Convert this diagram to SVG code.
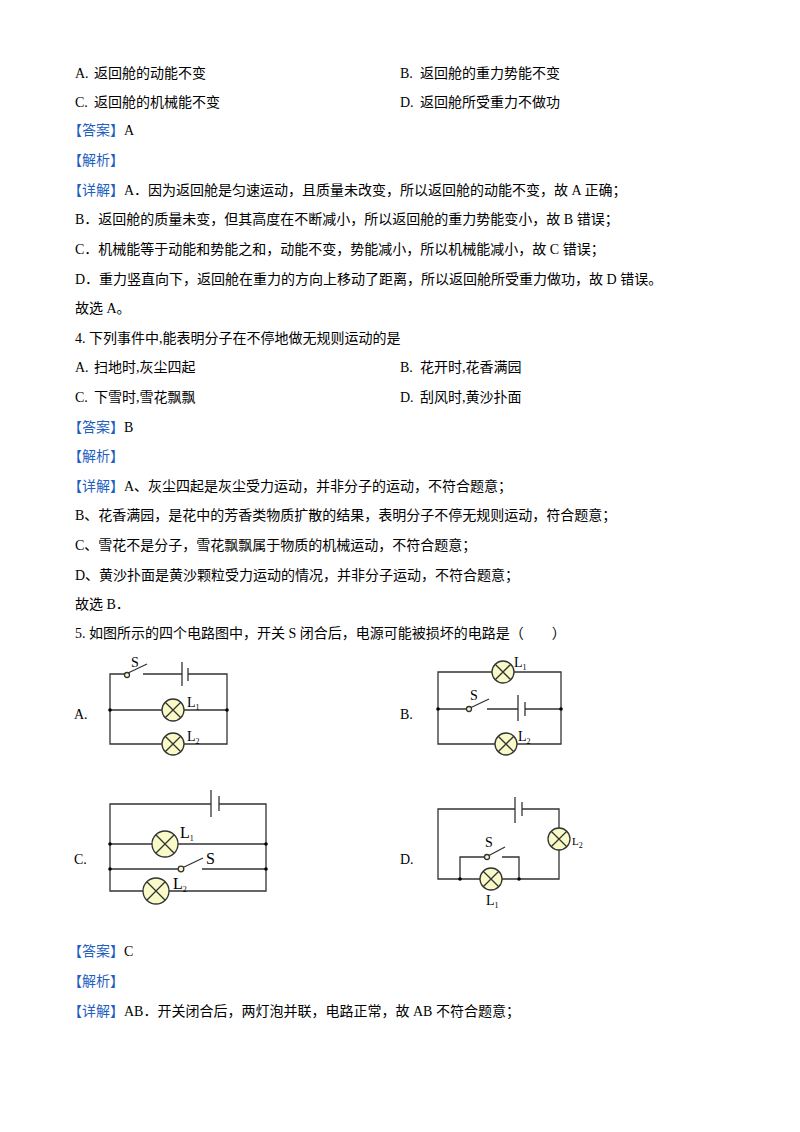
<svg xmlns="http://www.w3.org/2000/svg" width="800" height="1132" viewBox="0 0 800 1132">
<style>
text{font-family:"Liberation Serif","Noto Sans CJK SC",serif;font-size:14px;fill:#000}
.b{fill:#1f5fbf}
.w{stroke:#333;stroke-width:1.3;fill:none}
.lamp{fill:#fafac8;stroke:#333;stroke-width:1.3}
.lab{font-family:"Liberation Serif",serif;font-size:14px}
.sub{font-size:8px}
</style>
<rect width="800" height="1132" fill="#fff"/>
<g id="text">
<text x="75" y="78">A.</text><text x="94" y="78">返回舱的动能不变</text>
<text x="400" y="78">B.</text><text x="420" y="78">返回舱的重力势能不变</text>
<text x="75" y="107">C.</text><text x="94" y="107">返回舱的机械能不变</text>
<text x="400" y="107">D.</text><text x="420" y="107">返回舱所受重力不做功</text>
<text x="68" y="135"><tspan class="b">【答案】</tspan>A</text>
<text x="68" y="165" class="b">【解析】</text>
<text x="68" y="195"><tspan class="b">【详解】</tspan>A．因为返回舱是匀速运动，且质量未改变，所以返回舱的动能不变，故 A 正确；</text>
<text x="75" y="224">B．返回舱的质量未变，但其高度在不断减小，所以返回舱的重力势能变小，故 B 错误；</text>
<text x="75" y="254">C．机械能等于动能和势能之和，动能不变，势能减小，所以机械能减小，故 C 错误；</text>
<text x="75" y="284">D．重力竖直向下，返回舱在重力的方向上移动了距离，所以返回舱所受重力做功，故 D 错误。</text>
<text x="75" y="313">故选 A。</text>
<text x="75" y="343">4. 下列事件中,能表明分子在不停地做无规则运动的是</text>
<text x="75" y="372">A.</text><text x="94" y="372">扫地时,灰尘四起</text>
<text x="400" y="372">B.</text><text x="420" y="372">花开时,花香满园</text>
<text x="75" y="402">C.</text><text x="94" y="402">下雪时,雪花飘飘</text>
<text x="400" y="402">D.</text><text x="420" y="402">刮风时,黄沙扑面</text>
<text x="68" y="432"><tspan class="b">【答案】</tspan>B</text>
<text x="68" y="461" class="b">【解析】</text>
<text x="68" y="491"><tspan class="b">【详解】</tspan>A、灰尘四起是灰尘受力运动，并非分子的运动，不符合题意；</text>
<text x="75" y="520">B、花香满园，是花中的芳香类物质扩散的结果，表明分子不停无规则运动，符合题意；</text>
<text x="75" y="550">C、雪花不是分子，雪花飘飘属于物质的机械运动，不符合题意；</text>
<text x="75" y="580">D、黄沙扑面是黄沙颗粒受力运动的情况，并非分子运动，不符合题意；</text>
<text x="75" y="609">故选 B．</text>
<text x="75" y="638">5. 如图所示的四个电路图中，开关 S 闭合后，电源可能被损坏的电路是（　　）</text>
<text x="68" y="956"><tspan class="b">【答案】</tspan>C</text>
<text x="68" y="986" class="b">【解析】</text>
<text x="68" y="1016"><tspan class="b">【详解】</tspan>AB．开关闭合后，两灯泡并联，电路正常，故 AB 不符合题意；</text>
</g>
<g id="circuitA">
<text x="74" y="719">A.</text>
<path class="w" d="M127 674H110V744H227V674H188M182 674H143M110 710H227"/>
<line class="w" x1="182" y1="662" x2="182" y2="686"/>
<line class="w" x1="188" y1="668" x2="188" y2="681" stroke-width="2"/>
<line class="w" x1="128" y1="673" x2="147" y2="664"/>
<circle cx="127" cy="675" r="2.5" class="lamp"/>
<circle cx="110" cy="710" r="1.8"/><circle cx="227" cy="710" r="1.8"/>
<g><circle class="lamp" cx="173" cy="710" r="11"/><path class="w" d="M165.2 702.2l15.6 15.6M180.8 702.2l-15.6 15.6"/></g>
<g><circle class="lamp" cx="173" cy="744" r="11"/><path class="w" d="M165.2 736.2l15.6 15.6M180.8 736.2l-15.6 15.6"/></g>
<text class="lab" x="131" y="667">S</text>
<text class="lab" x="187" y="707">L<tspan class="sub" dy="3">1</tspan></text>
<text class="lab" x="187" y="741">L<tspan class="sub" dy="3">2</tspan></text>
</g>
<g id="circuitB">
<text x="400" y="719">B.</text>
<path class="w" d="M438 672V744H561V672ZM438 709H469M487 709H518M525 709H561"/>
<line class="w" x1="518" y1="695" x2="518" y2="721"/>
<line class="w" x1="525" y1="702" x2="525" y2="716" stroke-width="2"/>
<line class="w" x1="470" y1="708" x2="489" y2="699"/>
<circle cx="469" cy="709" r="2.5" class="lamp"/>
<circle cx="438" cy="709" r="1.8"/><circle cx="561" cy="709" r="1.8"/>
<g><circle class="lamp" cx="503" cy="672" r="11"/><path class="w" d="M495.2 664.2l15.6 15.6M510.8 664.2l-15.6 15.6"/></g>
<g><circle class="lamp" cx="506" cy="744" r="11"/><path class="w" d="M498.2 736.2l15.6 15.6M513.8 736.2l-15.6 15.6"/></g>
<text class="lab" x="470" y="700">S</text>
<text class="lab" x="514" y="667">L<tspan class="sub" dy="3">1</tspan></text>
<text class="lab" x="518" y="741">L<tspan class="sub" dy="3">2</tspan></text>
</g>
<g id="circuitC">
<text x="74" y="864">C.</text>
<path class="w" d="M211 804H110V891H266V804H219M110 844H266M110 869H181M202 869H266"/>
<line class="w" x1="211" y1="790" x2="211" y2="817"/>
<line class="w" x1="219" y1="796" x2="219" y2="811" stroke-width="2"/>
<line class="w" x1="182" y1="868" x2="203" y2="858"/>
<circle cx="181" cy="869" r="2.8" class="lamp"/>
<circle cx="110" cy="844" r="1.8"/><circle cx="266" cy="844" r="1.8"/><circle cx="110" cy="869" r="1.8"/><circle cx="266" cy="869" r="1.8"/>
<g><circle class="lamp" cx="165" cy="844" r="13"/><path class="w" d="M155.8 834.8l18.4 18.4M174.2 834.8l-18.4 18.4"/></g>
<g><circle class="lamp" cx="156" cy="891" r="13"/><path class="w" d="M146.8 881.8l18.4 18.4M165.2 881.8l-18.4 18.4"/></g>
<text class="lab" x="206" y="864" style="font-size:16px">S</text>
<text class="lab" x="180" y="838" style="font-size:16px">L<tspan class="sub" dy="3">1</tspan></text>
<text class="lab" x="173" y="889" style="font-size:16px">L<tspan class="sub" dy="3">2</tspan></text>
</g>
<g id="circuitD">
<text x="400" y="864">D.</text>
<path class="w" d="M515 809H438V879H559V809H522M460 879V857H487M502 857H519V879"/>
<line class="w" x1="515" y1="797" x2="515" y2="823"/>
<line class="w" x1="522" y1="802" x2="522" y2="816" stroke-width="2"/>
<line class="w" x1="488" y1="856" x2="505" y2="847"/>
<circle cx="487" cy="857" r="2.5" class="lamp"/>
<circle cx="460" cy="879" r="1.8"/><circle cx="519" cy="879" r="1.8"/>
<g><circle class="lamp" cx="559" cy="839" r="11"/><path class="w" d="M551.2 831.2l15.6 15.6M566.8 831.2l-15.6 15.6"/></g>
<g><circle class="lamp" cx="491" cy="879" r="11"/><path class="w" d="M483.2 871.2l15.6 15.6M498.8 871.2l-15.6 15.6"/></g>
<text class="lab" x="485" y="847">S</text>
<text class="lab" x="486" y="905">L<tspan class="sub" dy="3">1</tspan></text>
<text class="lab" x="572" y="845" style="font-size:11px">L<tspan class="sub" dy="3">2</tspan></text>
</g>
</svg>
